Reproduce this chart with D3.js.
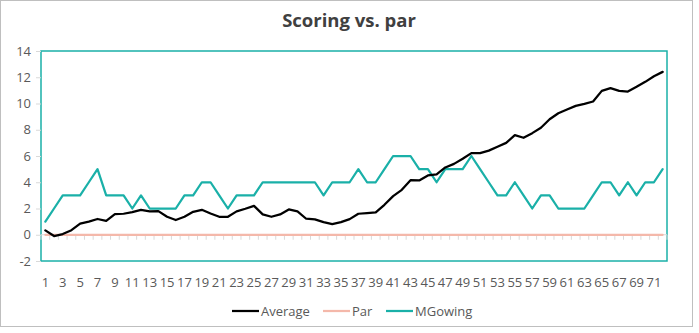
<!DOCTYPE html>
<html>
<head>
<meta charset="utf-8">
<script src="https://cdn.jsdelivr.net/npm/d3@7/dist/d3.min.js"></script>
<style>
  html, body { margin: 0; padding: 0; background: #fff; }
  svg { display: block; font-family: "Open Sans", "Noto Sans", sans-serif; }
</style>
</head>
<body>
<svg id="chart" width="699" height="333"></svg>
<script>
// Rounds played, one category per round
const rounds = d3.range(1, 73);

// Average score relative to par, per round
const average = [
  0.33, -0.10, 0.05, 0.35, 0.85, 1.00, 1.20, 1.05, 1.57, 1.60,
  1.73, 1.90, 1.78, 1.80, 1.37, 1.12, 1.37, 1.75, 1.90, 1.62,
  1.37, 1.37, 1.78, 1.98, 2.20, 1.55, 1.37, 1.55, 1.93, 1.78,
  1.22, 1.17, 0.96, 0.81, 0.96, 1.19, 1.60, 1.65, 1.70, 2.28,
  2.94, 3.42, 4.16, 4.14, 4.52, 4.60, 5.13, 5.40, 5.79, 6.22,
  6.22, 6.41, 6.70, 7.00, 7.59, 7.39, 7.74, 8.15, 8.80, 9.26,
  9.54, 9.82, 9.97, 10.15, 10.96, 11.17, 10.96, 10.91, 11.27, 11.65,
  12.08, 12.41
];

// Par reference line
const par = rounds.map(() => 0);

// MGowing score relative to par, per round
const mgowing = [
  1, 2, 3, 3, 3, 4, 5, 3, 3, 3,
  2, 3, 2, 2, 2, 2, 3, 3, 4, 4,
  3, 2, 3, 3, 3, 4, 4, 4, 4, 4,
  4, 4, 3, 4, 4, 4, 5, 4, 4, 5,
  6, 6, 6, 5, 5, 4, 5, 5, 5, 6,
  5, 4, 3, 3, 4, 3, 2, 3, 3, 2,
  2, 2, 2, 3, 4, 4, 3, 4, 3, 4,
  4, 5
];

const yTicks = [-2, 0, 2, 4, 6, 8, 10, 12, 14];
const xLabels = rounds.filter(r => r % 2 === 1);

const seriesList = [
  { name: "Average", values: average, color: "#000000" },
  { name: "Par", values: par, color: "#F4B8AA" },
  { name: "MGowing", values: mgowing, color: "#1AB0A8" }
];

const svg = d3.select("#chart");
const plot = { left: 41, right: 667, top: 51, bottom: 261 };

// Outer chart frame
svg.append("rect")
  .attr("x", 0.5).attr("y", 0.5)
  .attr("width", 692).attr("height", 326)
  .attr("fill", "#fff")
  .attr("stroke", "#BFBFBF").attr("stroke-width", 1);

// Title
svg.append("text")
  .attr("x", 349).attr("y", 27)
  .attr("text-anchor", "middle")
  .attr("font-size", 18.5).attr("font-weight", "bold")
  .attr("fill", "#404040")
  .text("Scoring vs. par");

const x = d3.scaleBand().domain(rounds).range([plot.left, plot.right]).paddingInner(0).paddingOuter(0);
const y = d3.scaleLinear().domain([-2, 14]).range([plot.bottom, plot.top]);
const cx = d => x(d) + x.bandwidth() / 2;

// Plot area border
svg.append("rect")
  .attr("x", plot.left).attr("y", plot.top)
  .attr("width", plot.right - plot.left).attr("height", plot.bottom - plot.top)
  .attr("fill", "none")
  .attr("stroke", "#1AB0A8").attr("stroke-width", 1.5);

// Value axis
const yAxis = d3.axisLeft(y).tickValues(yTicks).tickFormat(d => String(d)).tickSize(5).tickPadding(5);
const gy = svg.append("g").attr("transform", `translate(${plot.left},0)`).call(yAxis);
gy.select(".domain").remove();
gy.selectAll(".tick line").attr("stroke", "#D9D9D9");
gy.selectAll(".tick text")
  .attr("font-size", 13).attr("fill", "#595959")
  .attr("font-family", "\"Open Sans\", \"Noto Sans\", sans-serif");

// Category axis crossing at zero, with tick marks at band boundaries
const y0 = y(0);
svg.append("line")
  .attr("x1", plot.left).attr("x2", plot.right)
  .attr("y1", y0).attr("y2", y0)
  .attr("stroke", "#D9D9D9").attr("stroke-width", 1);
svg.append("g").selectAll("line")
  .data(rounds.concat([null]))
  .join("line")
  .attr("x1", (d, i) => i < rounds.length ? x(d) : plot.right)
  .attr("x2", (d, i) => i < rounds.length ? x(d) : plot.right)
  .attr("y1", y0).attr("y2", y0 + 5)
  .attr("stroke", "#D9D9D9").attr("stroke-width", 1);

// Category labels at the bottom of the plot
svg.append("g").selectAll("text")
  .data(xLabels)
  .join("text")
  .attr("x", d => cx(d))
  .attr("y", 287)
  .attr("text-anchor", "middle")
  .attr("font-size", 13).attr("fill", "#595959")
  .text(d => d);

// Series lines
const line = d3.line()
  .x((v, i) => cx(rounds[i]))
  .y(v => y(v));

const drawOrder = [seriesList[1], seriesList[2], seriesList[0]];
svg.append("g").selectAll("path")
  .data(drawOrder)
  .join("path")
  .attr("d", s => line(s.values))
  .attr("fill", "none")
  .attr("stroke", s => s.color)
  .attr("stroke-width", 2.25)
  .attr("stroke-linejoin", "round")
  .attr("stroke-linecap", "round");

// Legend
const legendItems = [
  { s: seriesList[0], x: 232 },
  { s: seriesList[1], x: 323 },
  { s: seriesList[2], x: 386 }
];
const lg = svg.append("g");
legendItems.forEach(item => {
  lg.append("line")
    .attr("x1", item.x).attr("x2", item.x + 27)
    .attr("y1", 311).attr("y2", 311)
    .attr("stroke", item.s.color).attr("stroke-width", 2.25);
  lg.append("text")
    .attr("x", item.x + 29).attr("y", 316)
    .attr("font-size", 13).attr("fill", "#595959")
    .text(item.s.name);
});
</script>
</body>
</html>
